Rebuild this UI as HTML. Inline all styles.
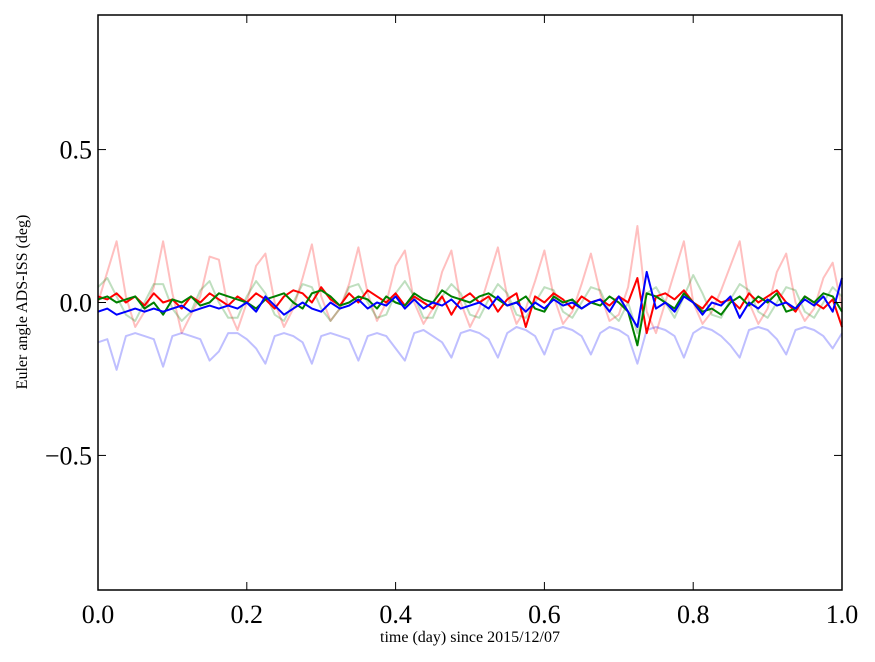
<!DOCTYPE html>
<html><head><meta charset="utf-8"><style>
body{margin:0;background:#fff;}
svg{display:block;font-family:"Liberation Serif",serif;}
</style></head><body>
<svg id="chart" width="875" height="662">
<g id="plot"></g>
<rect x="98" y="15" width="744" height="575" fill="none" stroke="#000" stroke-width="1.5"/>
<g id="axes"></g>
<text x="470" y="642" font-size="16" text-anchor="middle">time (day) since 2015/12/07</text>
<text transform="translate(27,302) rotate(-90)" font-size="16" text-anchor="middle">Euler angle ADS-ISS (deg)</text>
</svg>
<script>
const xTicks=[0.0,0.2,0.4,0.6,0.8,1.0];
const xTickLabels=["0.0","0.2","0.4","0.6","0.8","1.0"];
const yTicks=[-0.5,0.0,0.5];
const yTickLabels=["\u22120.5","0.0","0.5"];
const pinkVals=[0.0,0.1,0.2,0.02,-0.08,-0.03,0.05,0.2,0.03,-0.1,-0.04,0.02,0.15,0.14,-0.02,-0.09,0.0,0.12,0.16,0.0,-0.08,-0.02,0.08,0.19,0.02,-0.06,-0.02,0.06,0.18,0.03,-0.06,0.0,0.12,0.17,0.0,-0.07,-0.02,0.1,0.17,0.0,-0.08,-0.02,0.08,0.18,0.02,-0.07,-0.02,0.07,0.17,0.02,-0.07,-0.03,0.06,0.16,0.03,-0.06,-0.04,0.05,0.25,-0.03,-0.1,0.0,0.1,0.2,0.0,-0.07,-0.03,0.04,0.12,0.2,0.0,-0.07,-0.02,0.1,0.16,0.0,-0.06,-0.02,0.08,0.13,-0.02];
const lightBlueVals=[-0.13,-0.12,-0.22,-0.11,-0.10,-0.11,-0.12,-0.21,-0.11,-0.10,-0.11,-0.12,-0.19,-0.16,-0.10,-0.10,-0.12,-0.15,-0.20,-0.11,-0.10,-0.11,-0.13,-0.20,-0.11,-0.10,-0.11,-0.12,-0.19,-0.11,-0.10,-0.11,-0.15,-0.19,-0.10,-0.09,-0.11,-0.13,-0.18,-0.10,-0.09,-0.10,-0.12,-0.18,-0.10,-0.08,-0.09,-0.11,-0.17,-0.09,-0.08,-0.09,-0.11,-0.17,-0.10,-0.08,-0.09,-0.11,-0.20,-0.09,-0.08,-0.09,-0.11,-0.18,-0.10,-0.08,-0.09,-0.11,-0.14,-0.18,-0.09,-0.08,-0.09,-0.12,-0.17,-0.09,-0.08,-0.09,-0.11,-0.15,-0.10];
const lightGreenVals=[0.05,0.08,0.02,-0.04,-0.06,0.0,0.06,0.06,-0.02,-0.06,-0.03,0.04,0.07,0.0,-0.05,-0.05,0.02,0.07,0.03,-0.04,-0.06,0.0,0.06,0.05,-0.02,-0.06,-0.02,0.05,0.06,0.0,-0.05,-0.04,0.03,0.07,0.02,-0.05,-0.05,0.02,0.06,0.03,-0.04,-0.05,0.01,0.06,0.03,-0.04,-0.05,0.0,0.05,0.04,-0.03,-0.05,0.0,0.05,0.04,-0.03,-0.06,0.0,-0.1,0.03,0.05,0.0,-0.05,0.02,0.09,0.03,-0.04,-0.05,0.01,0.06,0.04,-0.03,-0.05,0.0,0.05,0.04,-0.03,-0.05,0.0,0.05,0.02];
const redVals=[0.02,0.01,0.03,0.0,0.02,-0.01,0.03,0.0,0.01,-0.02,0.02,0.0,0.03,0.01,-0.01,0.02,0.0,0.03,0.01,-0.02,0.02,0.04,0.03,0.0,0.05,0.01,-0.01,0.03,0.0,0.04,0.02,0.0,0.03,-0.01,0.02,0.0,-0.02,0.02,-0.04,0.01,0.03,0.0,0.02,-0.03,0.01,0.03,-0.08,0.02,0.0,0.03,0.01,-0.02,0.02,0.0,0.01,-0.01,0.02,0.0,0.08,-0.1,0.02,0.03,0.01,0.04,0.0,-0.02,0.02,0.0,0.01,-0.02,0.03,0.0,0.02,0.04,0.0,-0.03,0.02,0.0,-0.02,0.01,-0.08];
const greenVals=[0.01,0.02,0.0,0.01,0.02,-0.02,0.0,-0.04,0.01,0.0,0.02,-0.01,0.0,0.03,0.02,0.01,0.0,-0.02,0.01,0.02,0.03,0.0,-0.02,0.03,0.04,0.02,-0.01,0.0,0.02,0.01,-0.02,0.02,0.0,-0.01,0.03,0.01,0.0,0.04,0.02,0.01,0.0,0.02,0.03,0.01,-0.01,0.0,0.02,-0.02,-0.03,0.02,0.0,0.01,-0.02,0.0,-0.01,0.02,0.0,-0.03,-0.14,0.03,0.02,0.0,-0.02,0.03,0.0,-0.03,-0.02,-0.04,0.0,0.02,-0.01,0.02,0.0,0.03,-0.03,-0.02,0.02,0.0,0.03,0.02,-0.03];
const blueVals=[-0.03,-0.02,-0.04,-0.03,-0.02,-0.03,-0.02,-0.03,-0.02,-0.01,-0.03,-0.02,-0.01,-0.02,-0.01,-0.02,0.0,-0.03,0.02,-0.01,-0.04,-0.02,0.0,-0.02,-0.03,0.0,-0.02,-0.01,0.01,-0.02,0.0,-0.01,0.02,-0.02,0.01,-0.02,0.0,-0.01,0.01,-0.02,-0.01,0.0,-0.02,0.02,-0.01,0.0,-0.03,0.0,-0.02,0.01,-0.01,0.0,-0.02,0.0,0.01,-0.03,0.02,-0.03,-0.08,0.1,-0.02,0.0,-0.03,0.02,0.0,-0.04,0.0,-0.01,0.02,-0.05,0.0,-0.02,0.01,-0.01,0.0,-0.02,0.01,-0.01,0.02,-0.03,0.08];

const X0=98,X1=842,Y0=15,Y1=590;
const xMin=0,xMax=1,yMin=-0.94,yMax=0.94;
const sx=v=>X0+(v-xMin)/(xMax-xMin)*(X1-X0);
const sy=v=>Y1-(v-yMin)/(yMax-yMin)*(Y1-Y0);
const NS="http://www.w3.org/2000/svg";
const plot=document.getElementById('plot'), axes=document.getElementById('axes');
function series(vals,color,op,name){
  const n=vals.length;
  const d=vals.map((v,i)=>(i?'L':'M')+sx(i/(n-1)).toFixed(1)+','+sy(v).toFixed(1)).join('');
  const p=document.createElementNS(NS,'path');
  p.setAttribute('d',d);p.setAttribute('fill','none');p.setAttribute('stroke',color);
  p.setAttribute('stroke-width','2');p.setAttribute('stroke-opacity',op);p.setAttribute('stroke-linejoin','round');
  
  
  plot.appendChild(p);
}
series(pinkVals,'#ff0000',0.25,'light-red-series');
series(lightGreenVals,'#008000',0.25,'light-green-series');
series(lightBlueVals,'#0000ff',0.25,'light-blue-series');
series(redVals,'#ff0000',1,'red-series');
series(greenVals,'#008000',1,'green-series');
series(blueVals,'#0000ff',1,'blue-series');
function line(x1,y1,x2,y2){const l=document.createElementNS(NS,'line');
  l.setAttribute('x1',x1);l.setAttribute('y1',y1);l.setAttribute('x2',x2);l.setAttribute('y2',y2);
  l.setAttribute('stroke','#000');l.setAttribute('stroke-width','1');
  
  
  axes.appendChild(l);}
function text(x,y,s,anchor,name){const t=document.createElementNS(NS,'text');
  t.setAttribute('x',x);t.setAttribute('y',y);t.setAttribute('font-size','26');t.setAttribute('text-anchor',anchor);
  t.textContent=s;
  
  
  axes.appendChild(t);}
xTicks.forEach((v,i)=>{const x=sx(v);line(x,Y1,x,Y1-8);line(x,Y0,x,Y0+8);text(x,Y1+33,xTickLabels[i],'middle','x-tick-label');});
yTicks.forEach((v,i)=>{const y=sy(v);line(X0,y,X0+8,y);line(X1,y,X1-8,y);text(X0-6,y+9,yTickLabels[i],'end','y-tick-label');});
</script>
</body></html>
